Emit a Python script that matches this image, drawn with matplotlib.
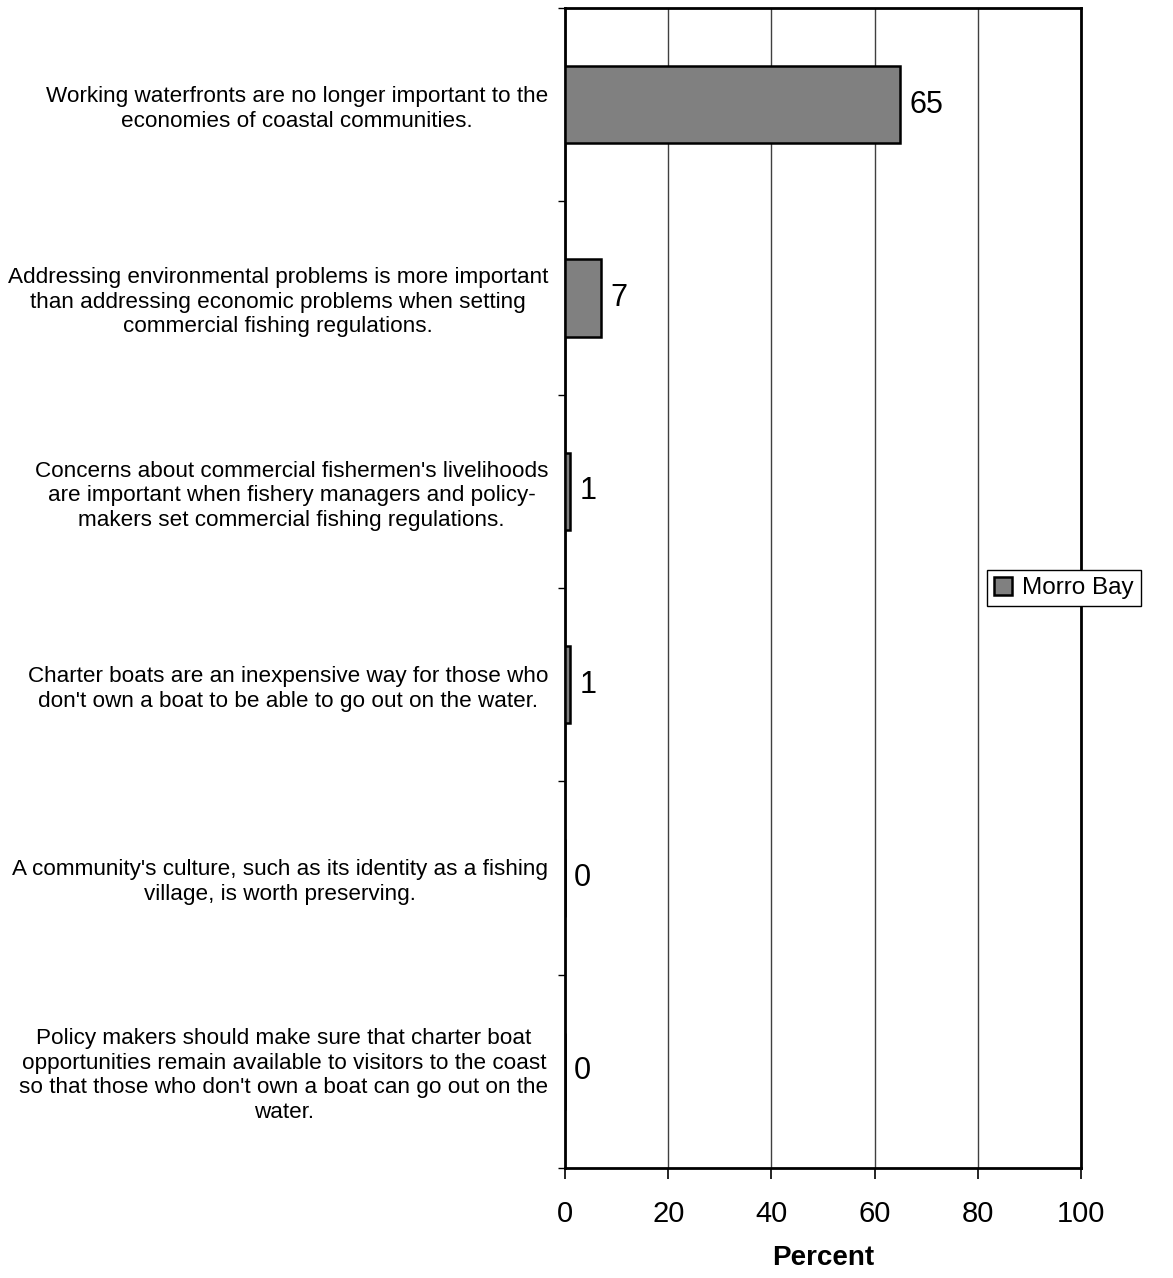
import matplotlib
matplotlib.use("Agg")
import matplotlib.pyplot as plt
import numpy as np

plt.rcParams['font.family'] = ['Liberation Sans', 'DejaVu Sans']

statements = [
    "Working waterfronts are no longer important to the\neconomies of coastal communities.",
    "Addressing environmental problems is more important\nthan addressing economic problems when setting\ncommercial fishing regulations.",
    "Concerns about commercial fishermen's livelihoods\nare important when fishery managers and policy-\nmakers set commercial fishing regulations.",
    "Charter boats are an inexpensive way for those who\ndon't own a boat to be able to go out on the water.",
    "A community's culture, such as its identity as a fishing\nvillage, is worth preserving.",
    "Policy makers should make sure that charter boat\nopportunities remain available to visitors to the coast\nso that those who don't own a boat can go out on the\nwater.",
]
morro_bay = [65, 7, 1, 1, 0, 0]
xticks = [0, 20, 40, 60, 80, 100]

fig = plt.figure(figsize=(11.73, 12.78), dpi=100)
ax = fig.add_axes([565/1173, 1 - 1168/1278, (1081-565)/1173, (1168-8)/1278])

pos = np.arange(len(statements))
bars = ax.barh(pos, morro_bay, height=0.4, color='#808080', edgecolor='black',
               linewidth=1.8, label='Morro Bay', zorder=3)

# value labels next to bar ends
for p, v in zip(pos, morro_bay):
    ax.annotate(str(v), (v, p), xytext=(6.5, 0), textcoords='offset points',
                ha='left', va='center', fontsize=22)

ax.set_xlim(0, 100)
ax.set_ylim(len(statements) - 0.5, -0.5)
ax.set_xticks(xticks)
ax.set_xticklabels([str(t) for t in xticks], fontsize=21)
ax.tick_params(axis='x', direction='out', length=8, width=1.2, pad=15)

ax.set_yticks(pos)
ax.set_yticklabels(statements, fontsize=16.2, multialignment='center', linespacing=1.22)
ax.tick_params(axis='y', which='major', length=0, pad=12)
ax.set_yticks(np.arange(len(statements) + 1) - 0.5, minor=True)
ax.tick_params(axis='y', which='minor', direction='out', length=5, width=1)

ax.xaxis.grid(True, color='#404040', linewidth=1, zorder=0)
for s in ax.spines.values():
    s.set_linewidth(2)
    s.set_color('black')

ax.set_xlabel('Percent', fontsize=20, fontweight='bold', labelpad=12)

leg = fig.legend(handles=[bars], labels=['Morro Bay'], loc='center',
                 bbox_to_anchor=(1064/1173, 1 - 588/1278), fontsize=17.5,
                 frameon=True, fancybox=False, framealpha=1, edgecolor='black',
                 handlelength=0.75, handleheight=0.75, handletextpad=0.4,
                 borderpad=0.3, borderaxespad=0)
leg.get_frame().set_linewidth(1)

fig.savefig('out.png', dpi=100)
